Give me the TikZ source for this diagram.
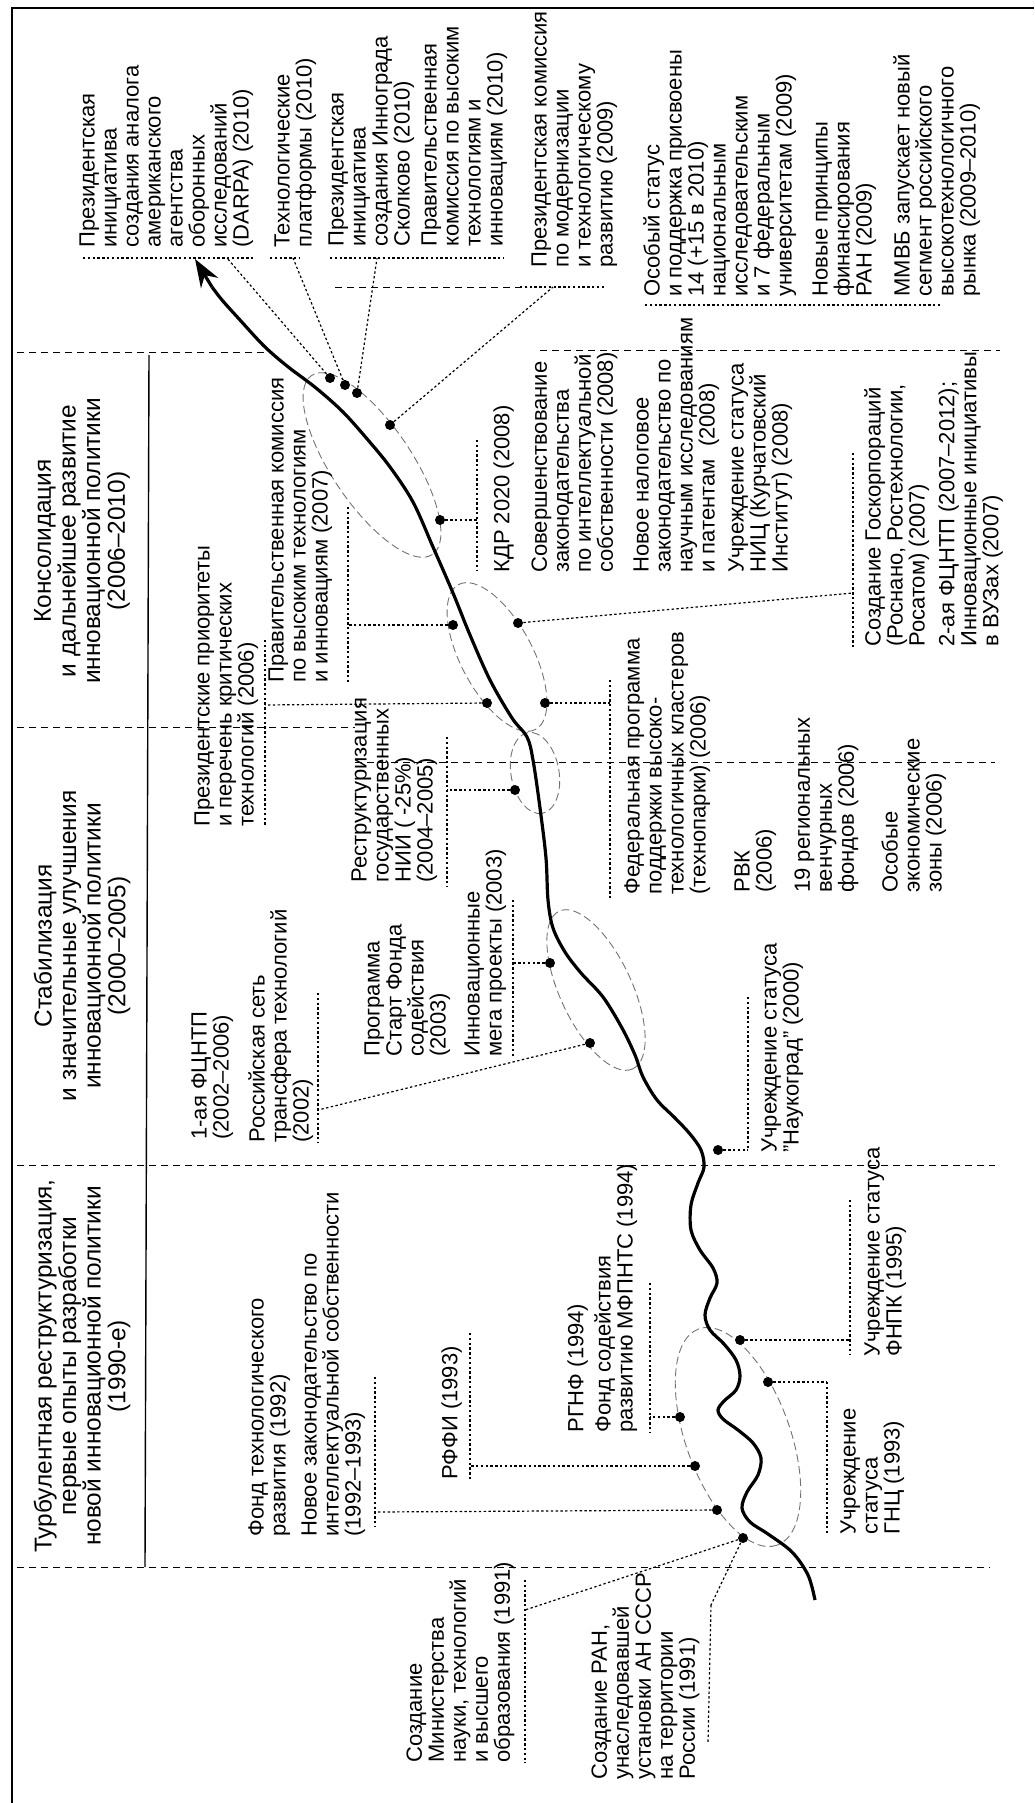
\documentclass[tikz,border=0pt]{standalone}
\usepackage{fontspec}
\setmainfont{Liberation Sans}
\usepackage{tikz}
\usetikzlibrary{arrows.meta, shapes.geometric, positioning}
\lineskiplimit=-10pt

\begin{document}
\begin{tikzpicture}[
    x=0.5pt, y=-0.5pt,
    txt/.style={rotate=90, anchor=north west, inner sep=0pt, align=left, font=\fontsize{11}{11}\selectfont},
    ttl/.style={rotate=90, inner sep=0pt, align=center, font=\fontsize{12.2}{12.3}\selectfont},
    dot/.style={circle, fill=black, inner sep=0pt, minimum size=5pt},
    leader/.style={dash pattern=on 1.2pt off 1.2pt, line width=0.6pt},
    bound/.style={dash pattern=on 3.5pt off 2.5pt, line width=0.5pt},
    ring/.style={black!55, dash pattern=on 4pt off 2pt, line width=0.45pt},
    trend/.style={line width=1.6pt}
]
\useasboundingbox (0,0) rectangle (1034,1803);

% frame, header rule and period borders
\draw[line width=0.6pt] (12,1803) -- (12,8) -- (1034,8);
\draw[line width=0.7pt] (149,355) -- (145,1567);
\draw[bound] (17,1567) -- (990,1567);
\draw[bound] (17,1165) -- (995,1165);
\draw[bound] (17,727) -- (355,727);
\draw[bound] (355,762) -- (995,762);
\draw[bound] (17,352) -- (268,352);
\draw[bound] (335,287) -- (527,287);
\draw[bound] (540,350) -- (1000,350);

% period titles
\node[ttl] (per1) at (82,1366) {Турбулентная реструктуризация,\\первые опыты разработки\\новой инновационной политики\\(1990-е)};
\node[ttl] (per2) at (82,946) {Стабилизация\\и значительные улучшения\\инновационной политики\\(2000--2005)};
\node[ttl] (per3) at (82,541) {Консолидация\\и дальнейшее развитие\\инновационной политики\\(2006--2010)};

% groups of events
\draw[ring, rotate around={-70:(738,1437)}] (738,1437) ellipse [x radius=115, y radius=52];
\draw[ring, rotate around={-65:(596,990)}] (596,990) ellipse [x radius=87, y radius=36];
\draw[ring, rotate around={-80:(535,773)}] (535,773) ellipse [x radius=41, y radius=24];
\draw[ring, rotate around={-62:(497,657)}] (497,657) ellipse [x radius=82, y radius=36];
\draw[ring, rotate around={-56:(372,465)}] (372,465) ellipse [x radius=108, y radius=40];

% the trajectory
\draw[trend] plot[smooth, tension=0.55] coordinates {
    (815,1600) (808,1575) (792,1552) (768,1534) (750,1522) (742,1508)
    (747,1492) (758,1475) (761,1458) (753,1443) (738,1430) (723,1419)
    (718,1410) (724,1401) (736,1390) (740,1376) (736,1360) (724,1344)
    (710,1330) (705,1315) (710,1298) (717,1283) (713,1268) (700,1250)
    (691,1230) (691,1205) (698,1183) (704,1167) (701,1150) (690,1134)
    (675,1118) (657,1100) (643,1077) (635,1055) (622,1028) (603,997)
    (581,973) (565,952) (553,928) (548,900) (546,858) (540,808)
    (533,760) (527,737) (512,718) (490,680) (470,635) (453,593)
    (433,547) (413,502) (390,467) (368,440) (343,412) (316,388)
    (287,366) (264,346) (240,320) (222,300) (212,287)};
\coordinate (tipfoot) at (212,287);
\coordinate (tip) at (195,259);
\draw[trend, -{Stealth[length=14pt, width=10pt]}] (tipfoot) -- (tip);

% events on the trajectory
\node[dot] (d1) at (743,1538) {};
\node[dot] (d2) at (717,1510) {};
\node[dot] (d3) at (695,1466) {};
\node[dot] (d4) at (680,1417) {};
\node[dot] (d5) at (768,1382) {};
\node[dot] (d6) at (740,1340) {};
\node[dot] (d7) at (718,1150) {};
\node[dot] (d8) at (590,1043) {};
\node[dot] (d9) at (550,963) {};
\node[dot] (d10) at (515,790) {};
\node[dot] (d11) at (487,703) {};
\node[dot] (d12) at (545,703) {};
\node[dot] (d13) at (453,625) {};
\node[dot] (d14) at (518,623) {};
\node[dot] (d15) at (440,520) {};
\node[dot] (d16) at (390,425) {};
\node[dot] (d17) at (357,393) {};
\node[dot] (d18) at (345,385) {};
\node[dot] (d19) at (330,378) {};

% labels: 1990s
\node[txt] (minobr) at (406,1763) {Создание\\Министерства\\науки, технологий\\и высшего\\образования (1991)};
\node[txt] (ran) at (591,1780) {Создание РАН,\\унаследовавшей\\установки АН СССР\\на территории\\России (1991)};
\node[txt] (ftr) at (248,1537) {Фонд технологического\\развития (1992)};
\node[txt] (zakon) at (301,1537) {Новое законодательство по\\интеллектуальной собственности\\(1992--1993)};
\node[txt] (rffi) at (441,1480) {РФФИ (1993)};
\node[txt] (rgnf) at (567,1433) {РГНФ (1994)};
\node[txt] (fsod) at (594,1433) {Фонд содействия\\развитию МФПНТС (1994)};
\node[txt] (gnc) at (840,1535) {Учреждение\\статуса\\ГНЦ (1993)};
\node[txt] (fnpk) at (864,1357) {Учреждение статуса\\ФНПК (1995)};

% labels: 2000--2005
\node[txt] (naukograd) at (761,1153) {Учреждение статуса\\"Наукоград" (2000)};
\node[txt] (fcntp1) at (191,1140) {1-ая ФЦНТП\\(2002--2006)};
\node[txt] (rsett) at (248,1143) {Российская сеть\\трансфера технологий\\(2002)};
\node[txt] (start) at (364,1057) {Программа\\Старт Фонда\\содействия\\(2003)};
\node[txt] (mega) at (464,1057) {Инновационные\\мега проекты (2003)};
\node[txt] (nii) at (351,883) {Реструктуризация\\государственных\\НИИ ( -25\%)\\(2004--2005)};

% labels: 2006--2010
\node[txt] (prior) at (194,827) {Президентские приоритеты\\и перечень критических\\технологий (2006)};
\node[txt] (kom2007) at (268,683) {Правительственная комиссия\\по высоким технологиям\\и инновациям (2007)};
\node[txt] (fedprog) at (624,895) {Федеральная программа\\поддержки высоко-\\технологичных кластеров\\(технопарки) (2006)};
\node[txt] (rvk) at (734,893) {РВК\\(2006)};
\node[txt] (venture) at (794,893) {19 региональных\\венчурных\\фондов (2006)};
\node[txt] (oez) at (881,893) {Особые\\экономические\\зоны (2006)};
\node[txt] (kdr) at (493,573) {КДР 2020 (2008)};
\node[txt] (soversh) at (531,573) {Совершенствование\\законодательства\\по интеллектуальной\\собственности (2008)};
\node[txt] (nalog) at (633,573) {Новое налоговое\\законодательство по\\научным исследованиям\\и патентам\ \ (2008)};
\node[txt] (nic) at (728,573) {Учреждение статуса\\НИЦ (Курчатовский\\Институт) (2008)};
\node[txt] (goskorp) at (864,647) {Создание Госкорпораций\\(Роснано, Ростехнологии,\\Росатом) (2007)};
\node[txt] (fcntp2) at (938,647) {2-ая ФЦНТП (2007--2012);\\Инновационные инициативы\\в ВУЗах (2007)};

% labels: after 2009
\node[txt] (darpa) at (79,248) {Президентская\\инициатива\\создания аналога\\американского\\агентства\\оборонных\\исследований\\(DARPA) (2010)};
\node[txt] (platf) at (274,248) {Технологические\\платформы (2010)};
\node[txt] (skolk) at (328,247) {Президентская\\инициатива\\создания Иннограда\\Сколково (2010)};
\node[txt] (kom2010) at (421,247) {Правительственная\\комиссия по высоким\\технологиям и\\инновациям (2010)};
\node[txt] (kom2009) at (531,268) {Президентская комиссия\\по модернизации\\и технологическому\\развитию (2009)};
\node[txt] (status) at (643,297) {Особый статус\\и поддержка присвоены\\14 (+15 в 2010)\\национальным\\исследовательским\\и 7 федеральным\\университетам (2009)};
\node[txt] (ranfin) at (812,297) {Новые принципы\\финансирования\\РАН (2009)};
\node[txt] (mmvb) at (893,297) {ММВБ запускает новый\\сегмент российского\\высокотехнологичного\\рынка (2009--2010)};

% brackets and their leaders
\coordinate (jA) at (525,1610);
\coordinate (jB) at (711,1605);
\coordinate (jC) at (375,1512);
\coordinate (jD) at (470,1466);
\coordinate (jE) at (650,1417);
\coordinate (jF) at (827,1382);
\coordinate (jG) at (850,1340);
\coordinate (jH) at (748,1150);
\coordinate (jI) at (318,1110);
\coordinate (jJ) at (513,963);
\coordinate (jK) at (447,790);
\coordinate (jL) at (265,705);
\coordinate (jM) at (348,625);
\coordinate (jN) at (477,520);
\coordinate (jO) at (853,593);
\coordinate (jP) at (610,703);
\coordinate (jQ) at (227,258);
\coordinate (jR) at (293,258);
\coordinate (jS) at (377,258);
\coordinate (jT) at (553,287);

\draw[leader] (525,1580) -- (525,1763);
\draw[leader] (jB) -- (708,1743);
\draw[leader] (375,1377) -- (375,1527);
\draw[leader] (470,1333) -- (470,1480);
\draw[leader] (650,1283) -- (650,1433);
\draw[leader] (827,1382) -- (827,1535);
\draw[leader] (850,1200) -- (850,1355);
\draw[leader] (748,997) -- (748,1150);
\draw[leader] (318,993) -- (318,1143);
\draw[leader] (513,900) -- (513,1057);
\draw[leader] (447,737) -- (447,887);
\draw[leader] (265,640) -- (265,827);
\draw[leader] (348,507) -- (348,683);
\draw[leader] (477,440) -- (477,570);
\draw[leader] (853,453) -- (853,647);
\draw[leader] (610,680) -- (610,900);
\draw[leader] (83,258) -- (253,258);
\draw[leader] (270,258) -- (300,258);
\draw[leader] (330,258) -- (503,258);
\draw[leader] (520,287) -- (605,287);
\draw[leader] (645,305) -- (940,305);

\draw[leader] (d1) -- (jA);
\draw[leader] (d1) -- (jB);
\draw[leader] (d2) -- (jC);
\draw[leader] (d3) -- (jD);
\draw[leader] (d4) -- (jE);
\draw[leader] (d5) -- (jF);
\draw[leader] (d6) -- (jG);
\draw[leader] (d7) -- (jH);
\draw[leader] (d8) -- (jI);
\draw[leader] (d9) -- (jJ);
\draw[leader] (d10) -- (jK);
\draw[leader] (d11) -- (jL);
\draw[leader] (d13) -- (jM);
\draw[leader] (d15) -- (jN);
\draw[leader] (d14) -- (jO);
\draw[leader] (d12) -- (jP);
\draw[leader] (d19) -- (jQ);
\draw[leader] (d18) -- (jR);
\draw[leader] (d17) -- (jS);
\draw[leader] (d16) -- (jT);
\end{tikzpicture}
\end{document}
